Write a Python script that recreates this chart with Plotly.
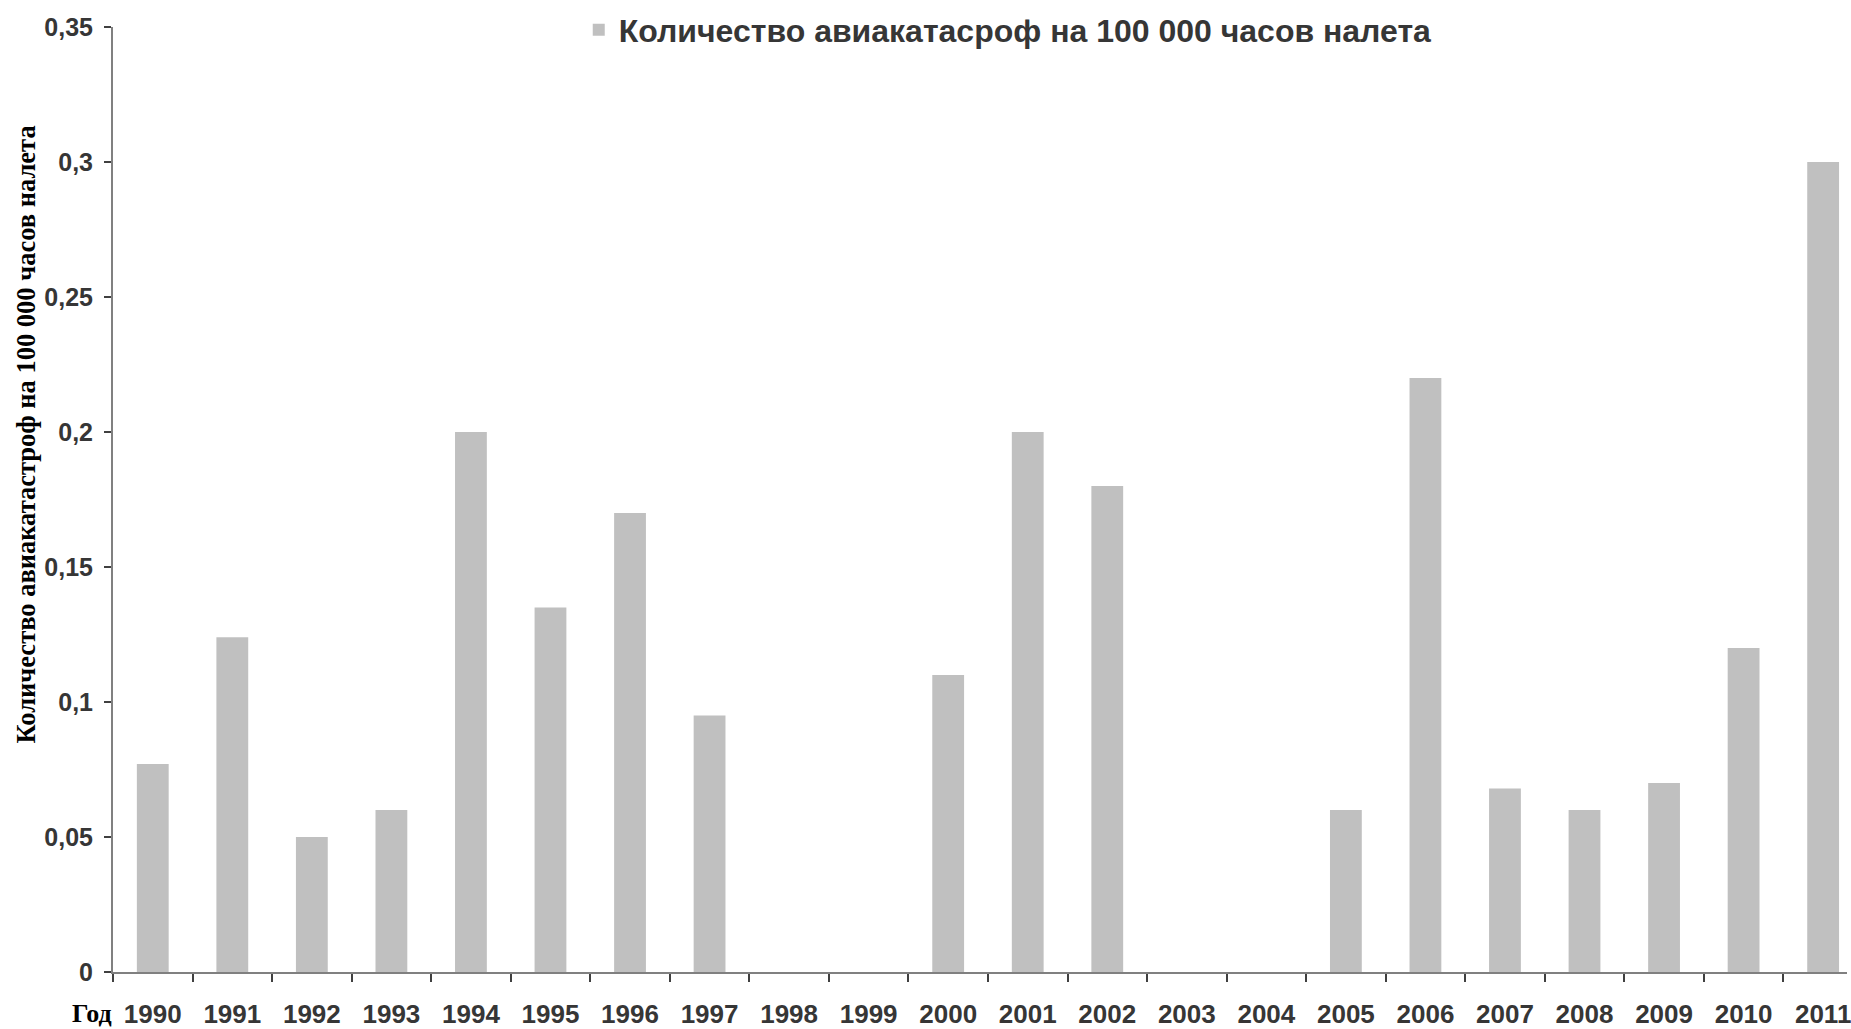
import plotly.graph_objects as go

years = ["1990", "1991", "1992", "1993", "1994", "1995", "1996", "1997", "1998", "1999", "2000",
         "2001", "2002", "2003", "2004", "2005", "2006", "2007", "2008", "2009", "2010", "2011"]
values = [0.077, 0.124, 0.050, 0.060, 0.200, 0.135, 0.170, 0.095, 0, 0, 0.110,
          0.200, 0.180, 0, 0, 0.060, 0.220, 0.068, 0.060, 0.070, 0.120, 0.300]
ytick_vals = [0, 0.05, 0.1, 0.15, 0.2, 0.25, 0.3, 0.35]
ytick_text = ["0", "0,05", "0,1", "0,15", "0,2", "0,25", "0,3", "0,35"]
series_name = "Количество авиакатасроф на 100 000 часов налета"
y_title = "Количество авиакатастроф на 100 000 часов налета"
x_title = "Год"

SANS = "Liberation Sans Narrow, Arial Narrow, Liberation Sans, Arial"
SERIF = "Liberation Serif, Times New Roman, serif"
LABEL_COLOR = "#363636"
AXIS_COLOR = "#808080"

fig = go.Figure()
fig.add_trace(go.Bar(
    x=years, y=values, name=series_name,
    marker=dict(color="#C0C0C0", line=dict(width=0)),
    showlegend=True,
))

fig.update_layout(
    width=1851, height=1029,
    margin=dict(l=113, r=0, t=27, b=57),
    paper_bgcolor="white", plot_bgcolor="white",
    bargap=0.6,
    showlegend=True,
    legend=dict(
        orientation="h", x=0.516, y=0.997, xanchor="center", yanchor="middle",
        font=dict(family=SANS, size=32, color=LABEL_COLOR, weight="bold"),
        bgcolor="rgba(0,0,0,0)",
    ),
    xaxis=dict(
        type="category", range=[-0.5, 21.3],
        showline=True, linecolor=AXIS_COLOR, linewidth=2,
        ticks="outside", tickson="boundaries", ticklen=8, tickwidth=2, tickcolor="#404040",
        tickfont=dict(family=SANS, size=26, color=LABEL_COLOR, weight="bold"),
        showgrid=False, zeroline=False, ticklabelstandoff=18,
    ),
    yaxis=dict(
        range=[0, 0.35], tickvals=ytick_vals, ticktext=ytick_text,
        showline=True, linecolor=AXIS_COLOR, linewidth=2,
        ticks="outside", ticklen=7, tickwidth=2, tickcolor="#404040",
        tickfont=dict(family=SANS, size=25, color=LABEL_COLOR, weight="bold"),
        showgrid=False, zeroline=False, ticklabelstandoff=6,
    ),
    annotations=[
        dict(text=y_title, xref="paper", yref="paper", x=-0.05, y=0.569,
             xanchor="center", yanchor="middle", textangle=-90, showarrow=False,
             font=dict(family=SERIF, size=26.5, color="black", weight="bold")),
        dict(text=x_title, xref="paper", yref="paper", x=0.0005, y=-0.0434,
             xanchor="right", yanchor="middle", showarrow=False,
             font=dict(family=SERIF, size=26, color="black", weight="bold")),
    ],
)

fig.write_html("out.html", config={"displayModeBar": False},
               post_script="document.body.style.margin='0';")
